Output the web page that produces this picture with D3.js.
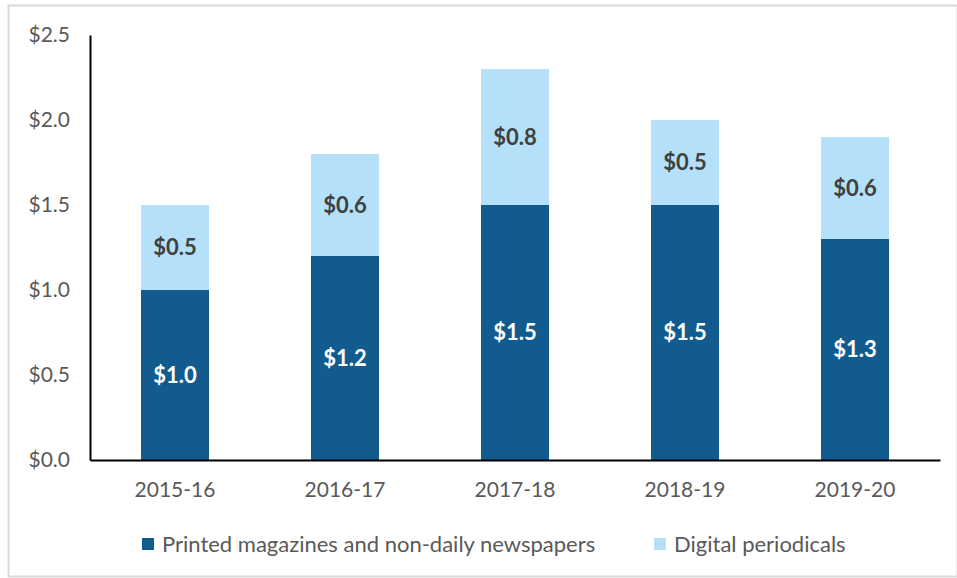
<!DOCTYPE html>
<html>
<head>
<meta charset="utf-8">
<script src="https://d3js.org/d3.v7.min.js"></script>
<style>
  body { margin: 0; background: #fff; }
  svg text { font-family: Lato, "Open Sans", sans-serif; }
</style>
</head>
<body>
<div id="chart"></div>
<script>
    // chart data
    var years = ["2015-16", "2016-17", "2017-18", "2018-19", "2019-20"];
    var printed = [1.0, 1.2, 1.5, 1.5, 1.3];
    var digital = [0.5, 0.6, 0.8, 0.5, 0.6];
    var yTicks = [0, 0.5, 1.0, 1.5, 2.0, 2.5];
    var seriesNames = ["Printed magazines and non-daily newspapers", "Digital periodicals"];
    var colors = ["#125B8E", "#B4E1F9"];

    var W = 957, H = 578;
    var margin = { top: 35, right: 17, bottom: 118, left: 90 };
    var width = W - margin.left - margin.right,
        height = H - margin.top - margin.bottom;

    var svg = d3.select("#chart").append("svg")
        .attr("width", W)
        .attr("height", H);

    // outer frame
    svg.append("rect")
        .attr("x", 8.5).attr("y", 5.5)
        .attr("width", W - 8).attr("height", H - 7)
        .attr("fill", "none")
        .attr("stroke", "#d9d9d9")
        .attr("stroke-width", 2);

    var main = svg.append("g")
        .attr("transform", "translate(" + margin.left + "," + margin.top + ")");

    var x = d3.scaleBand()
        .domain(years)
        .range([0, width])
        .paddingInner(0.6)
        .paddingOuter(0.3);

    var y = d3.scaleLinear()
        .domain([0, 2.5])
        .range([height, 0]);

    var data = years.map(function (yr, i) {
        return { year: yr, printed: printed[i], digital: digital[i] };
    });
    var stack = d3.stack().keys(["printed", "digital"])(data);

    main.selectAll(".layer")
        .data(stack)
        .enter().append("g")
        .attr("fill", function (d, i) { return colors[i]; })
        .selectAll("rect")
        .data(function (d) { return d; })
        .enter().append("rect")
        .attr("x", function (d) { return x(d.data.year); })
        .attr("width", x.bandwidth())
        .attr("y", function (d) { return y(d[1]); })
        .attr("height", function (d) { return y(d[0]) - y(d[1]); });

    // value labels
    stack.forEach(function (layer, li) {
        main.selectAll(".lbl" + li)
            .data(layer)
            .enter().append("text")
            .attr("x", function (d) { return x(d.data.year) + x.bandwidth() / 2; })
            .attr("y", function (d) { return (y(d[0]) + y(d[1])) / 2; })
            .attr("dy", "0.35em")
            .attr("text-anchor", "middle")
            .attr("font-size", 22)
            .attr("font-weight", "bold")
            .attr("fill", li === 0 ? "#ffffff" : "#404040")
            .text(function (d) { return "$" + (d[1] - d[0]).toFixed(1); });
    });

    // y axis
    var yAxis = main.append("g")
        .call(d3.axisLeft(y).tickValues(yTicks).tickSize(0).tickPadding(20)
            .tickFormat(function (d) { return "$" + d.toFixed(1); }));
    yAxis.select(".domain").attr("stroke", "#000").attr("stroke-width", 2);
    yAxis.selectAll("text").attr("font-size", 21).attr("fill", "#595959")
        .style("font-family", "Lato, sans-serif");

    // x axis
    var xAxis = main.append("g")
        .attr("transform", "translate(0," + height + ")")
        .call(d3.axisBottom(x).tickSize(0).tickPadding(22));
    xAxis.select(".domain").attr("stroke", "#000").attr("stroke-width", 2);
    xAxis.selectAll("text").attr("font-size", 21).attr("fill", "#595959")
        .style("font-family", "Lato, sans-serif");

    // legend
    var legendX = [142, 654];
    var legend = svg.selectAll(".legend")
        .data(seriesNames)
        .enter().append("g")
        .attr("transform", function (d, i) { return "translate(" + legendX[i] + ",538)"; });
    legend.append("rect")
        .attr("width", 12).attr("height", 12)
        .attr("fill", function (d, i) { return colors[i]; });
    legend.append("text")
        .attr("x", 20).attr("y", 6)
        .attr("dy", "0.35em")
        .attr("font-size", 22)
        .attr("fill", "#595959")
        .text(function (d) { return d; });
</script>
</body>
</html>
